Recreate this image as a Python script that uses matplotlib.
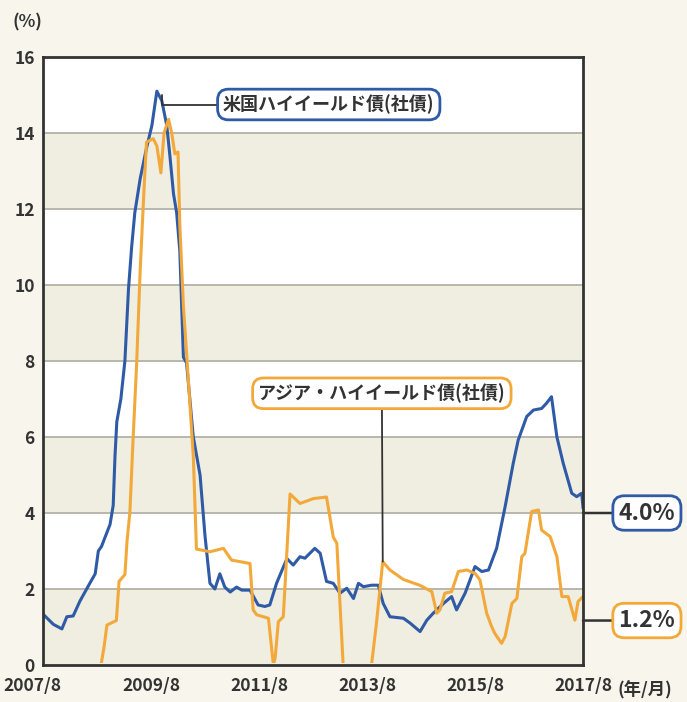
import matplotlib
matplotlib.use("Agg")
import matplotlib.pyplot as plt
from matplotlib.transforms import ScaledTranslation
from matplotlib.patches import Rectangle
import numpy as np

plt.rcParams['font.family'] = ['Noto Sans CJK JP', 'DejaVu Sans']

# ---- data (months since 2007/8, value in %) ----
us_months = [0, 2.3, 4.2, 5.3, 6.7, 8.2, 10.4, 11.6, 12.3, 13.0, 14.9, 15.6, 16.0, 16.4,
             17.3, 18.2, 19.0, 19.7, 20.4, 21.6, 23.0, 24.2, 25.3, 26.4, 27.5, 28.2, 29.0,
             29.7, 30.4, 31.2, 31.9, 33.4, 34.9, 36.0, 37.1, 38.2, 39.3, 40.4, 41.6, 43.0,
             44.2, 46.0, 47.8, 49.3, 50.4, 51.9, 54.2, 55.6, 57.1, 58.2, 60.4, 61.6, 63.0,
             64.5, 66.0, 67.5, 69.0, 70.1, 71.2, 73.0, 74.5, 75.6, 77.1, 80.1, 81.6, 83.8,
             85.3, 86.7, 89.0, 90.8, 91.9, 93.8, 96.0, 97.5, 99.0, 100.8, 102.7, 104.5,
             105.6, 107.5, 109.0, 110.8, 111.9, 113.0, 114.2, 115.6, 117.5, 118.6, 119.7, 120]
us_values = [1.34, 1.07, 0.95, 1.27, 1.29, 1.68, 2.15, 2.4, 3.0, 3.12, 3.7, 4.2, 5.5, 6.4,
             7.0, 8.0, 9.9, 11.0, 11.9, 12.8, 13.6, 14.2, 15.1, 14.85, 14.2, 13.4, 12.4,
             11.9, 10.9, 8.1, 7.95, 6.0, 5.0, 3.4, 2.15, 2.0, 2.4, 2.05, 1.92, 2.05,
             1.97, 1.97, 1.58, 1.54, 1.58, 2.15, 2.8, 2.63, 2.85, 2.81, 3.07, 2.94, 2.2,
             2.15, 1.89, 2.02, 1.75, 2.15, 2.06, 2.1, 2.1, 1.62, 1.27, 1.23, 1.1, 0.88,
             1.18, 1.36, 1.62, 1.8, 1.45, 1.89, 2.59, 2.46, 2.5, 3.07, 4.17, 5.31,
             5.92, 6.54, 6.71, 6.75, 6.89, 7.06, 6.0, 5.31, 4.52, 4.43, 4.52, 4.15]

asia_months = [0, 12.9, 13.6, 14.2, 16.3, 16.9, 18.2, 18.7, 19.3, 20.0, 20.8, 21.6, 22.4,
               23.0, 24.5, 25.3, 26.2, 26.9, 27.9, 28.6, 29.3, 30.0, 30.4, 31.2, 32.3, 33.4,
               34.1, 37.1, 40.1, 41.9, 43.8, 46.0, 46.7, 47.5, 50.1, 51.2, 51.6, 52.3, 53.4,
               54.9, 57.1, 60.1, 63.0, 64.5, 65.3, 66.7, 73.0, 74.1, 75.5, 77.1, 80.1, 83.7,
               86.4, 87.5, 88.2, 89.3, 90.8, 92.3, 94.2, 96.0, 97.1, 98.6, 99.7, 100.4,
               101.9, 102.7, 104.2, 105.3, 106.4, 107.1, 107.8, 108.6, 110.1, 110.8, 112.7,
               114.2, 115.3, 116.7, 118.2, 118.9, 120]
asia_values = [0, 0, 0.5, 1.05, 1.17, 2.2, 2.38, 3.3, 4.0, 5.9, 7.9, 10.4, 12.4,
               13.76, 13.85, 13.66, 12.95, 14.0, 14.36, 14.0, 13.45, 13.5, 11.6, 9.45, 7.5, 5.5,
               3.05, 2.98, 3.07, 2.76, 2.72, 2.67, 1.45, 1.32, 1.23, 0.0, 0.2, 1.14, 1.27,
               4.5, 4.25, 4.38, 4.42, 3.37, 3.2, 0.0, 0.0, 1.1, 2.72, 2.5, 2.25, 2.1,
               1.93, 1.36, 1.45, 1.89, 1.93, 2.46, 2.5, 2.41, 2.24, 1.36, 1.01, 0.83,
               0.57, 0.75, 1.62, 1.75, 2.85, 2.94, 3.46, 4.04, 4.08, 3.55, 3.38,
               2.85, 1.8, 1.8, 1.18, 1.67, 1.8]

x_tick_pos = [0, 24, 48, 72, 96, 120]
x_tick_labels = ["2007/8", "2009/8", "2011/8", "2013/8", "2015/8", "2017/8"]
y_ticks = [0, 2, 4, 6, 8, 10, 12, 14, 16]

us_label = "米国ハイイールド債(社債)"
asia_label = "アジア・ハイイールド債(社債)"
us_last_label = "4.0%"
asia_last_label = "1.2%"

# ---- style ----
BLUE = "#2f5aa6"
ORANGE = "#f2a93a"
BG = "#f7f5ec"
BAND = "#f0ede1"
GRID = "#b9b6ad"
DARK = "#333333"

fig = plt.figure(figsize=(6.87, 7.02), dpi=100, facecolor=BG)
ax = fig.add_axes([43/687, 37/702, 540/687, 608/702])
ax.set_facecolor("white")
ax.set_xlim(0, 120)
ax.set_ylim(0, 16)

for lo in [0, 4, 8, 12]:
    ax.axhspan(lo, lo + 2, color=BAND, zorder=0, lw=0)
for yv in y_ticks[1:-1]:
    ax.axhline(yv, color=GRID, lw=1.4, zorder=0.5)

clip_rect = Rectangle((0, 0.05), 120, 20, transform=ax.transData)
l1, = ax.plot(us_months, us_values, color=BLUE, lw=2.2, zorder=2, solid_joinstyle='round')
l2, = ax.plot(asia_months, asia_values, color=ORANGE, lw=2.2, zorder=2.1,
              solid_joinstyle='round')
l2.set_clip_path(clip_rect)

for s in ax.spines.values():
    s.set_color(DARK)
    s.set_linewidth(2.0)
    s.set_zorder(5)

ax.set_yticks(y_ticks)
ax.set_yticklabels([str(v) for v in y_ticks], fontsize=12.5, color=DARK, fontweight='bold')
ax.set_xticks(x_tick_pos)
ax.set_xticklabels(x_tick_labels, fontsize=12.5, color=DARK, fontweight='bold')
ax.tick_params(axis='both', length=0)
ax.tick_params(axis='y', pad=6)
ax.tick_params(axis='x', pad=9)
lbl0 = ax.get_xticklabels()[0]
lbl0.set_transform(lbl0.get_transform() + ScaledTranslation(-0.11, 0, fig.dpi_scale_trans))

fig.text(27/687, 1 - 22/702, "(%)", fontsize=12.5, color=DARK, ha='center', va='center',
         fontweight='bold')
fig.text(645/687, 1 - 690/702, "(年/月)", fontsize=12.5, color=DARK, ha='center', va='center',
         fontweight='bold')

# ---- annotations ----
peak_i = int(np.argmax(us_values))
ax.annotate(us_label, xy=(us_months[peak_i] + 1.2, us_values[peak_i] - 0.1),
            xytext=(63.5, 14.75), fontsize=13, fontweight='bold', color=DARK,
            ha='center', va='center',
            bbox=dict(boxstyle='round,pad=0.3,rounding_size=0.6', fc='white', ec=BLUE, lw=2),
            arrowprops=dict(arrowstyle='-', color=DARK, lw=1.3, shrinkA=0, shrinkB=0,
                            connectionstyle='angle,angleA=0,angleB=90,rad=0'),
            zorder=6)

ax.annotate(asia_label, xy=(75.5, asia_values[asia_months.index(75.5)]),
            xytext=(75.3, 7.15), fontsize=13, fontweight='bold', color=DARK,
            ha='center', va='center',
            bbox=dict(boxstyle='round,pad=0.3,rounding_size=0.6', fc='white', ec=ORANGE, lw=2),
            arrowprops=dict(arrowstyle='-', color=DARK, lw=1.3, shrinkA=0, shrinkB=0),
            zorder=6)

ax.annotate(us_last_label, xy=(120, 4.0), xytext=(134.2, 4.0), xycoords='data',
            textcoords='data', fontsize=16.5, fontweight='bold', color=DARK,
            ha='center', va='center', annotation_clip=False,
            bbox=dict(boxstyle='round,pad=0.25,rounding_size=0.5', fc='white', ec=BLUE, lw=2),
            arrowprops=dict(arrowstyle='-', color=DARK, lw=1.8, shrinkA=0, shrinkB=0),
            zorder=6)
ax.annotate(asia_last_label, xy=(120, 1.17), xytext=(134.2, 1.17), xycoords='data',
            textcoords='data', fontsize=16.5, fontweight='bold', color=DARK,
            ha='center', va='center', annotation_clip=False,
            bbox=dict(boxstyle='round,pad=0.25,rounding_size=0.5', fc='white', ec=ORANGE, lw=2),
            arrowprops=dict(arrowstyle='-', color=DARK, lw=1.8, shrinkA=0, shrinkB=0),
            zorder=6)

fig.savefig("out.png", dpi=100, facecolor=BG)
